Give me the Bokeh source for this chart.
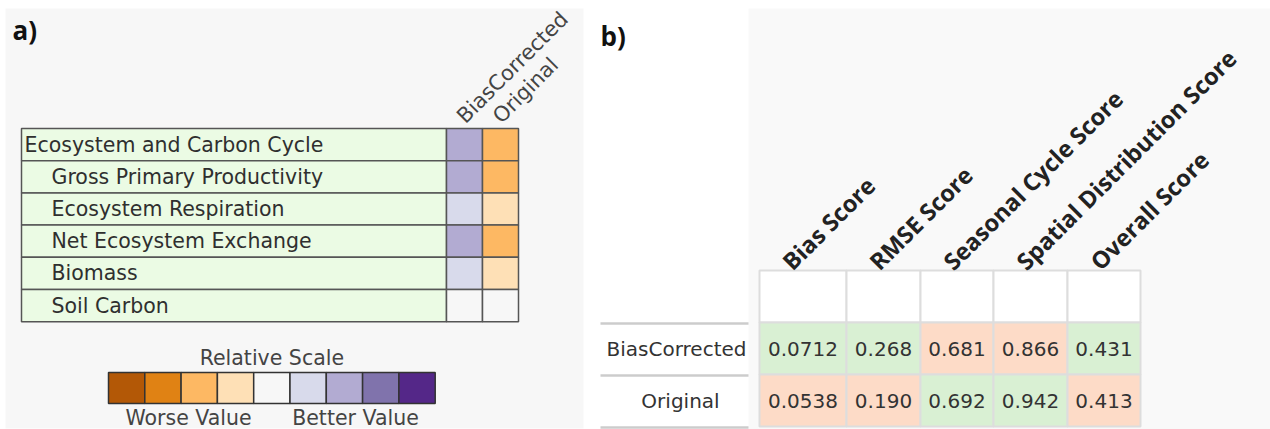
import math
from bokeh.plotting import figure
from bokeh.models import Range1d, ColumnDataSource
from bokeh.core.properties import value
from bokeh.embed import file_html
from bokeh.resources import INLINE

# ---- panel a: relative scores per variable ----
sections = [
    "Ecosystem and Carbon Cycle",
    "Gross Primary Productivity",
    "Ecosystem Respiration",
    "Net Ecosystem Exchange",
    "Biomass",
    "Soil Carbon",
]
section_level = [0, 1, 1, 1, 1, 1]
models = ["BiasCorrected", "Original"]
relative_bias_corrected = [2, 2, 1, 2, 1, 0]
relative_original = [-2, -2, -1, -2, -1, 0]
scale_levels = [-4, -3, -2, -1, 0, 1, 2, 3, 4]
scale_colors = ["#b35806", "#e08214", "#fdb863", "#fee0b6", "#f7f7f7",
                "#d8daeb", "#b2abd2", "#8073ac", "#542788"]
scale_title = "Relative Scale"
scale_ends = ["Worse Value", "Better Value"]

# ---- panel b: absolute scores ----
metrics = ["Bias Score", "RMSE Score", "Seasonal Cycle Score",
           "Spatial Distribution Score", "Overall Score"]
score_rows = ["BiasCorrected", "Original"]
scores_bias_corrected = [0.0712, 0.268, 0.681, 0.866, 0.431]
scores_original = [0.0538, 0.190, 0.692, 0.942, 0.413]

W, H = 1270, 429
FONT = value("DejaVu Sans")

p = figure(width=W, height=H, x_range=Range1d(0, W), y_range=Range1d(H, 0),
           output_backend="svg", toolbar_location=None, min_border=0)
p.axis.visible = False
p.grid.visible = False
p.outline_line_color = None
p.background_fill_color = "white"
p.border_fill_color = "white"

# panel backgrounds
p.quad(left=[5, 748], right=[583, W], top=[8, 8], bottom=[428, H],
       fill_color=["#f7f7f7", "#f9f9f9"], line_color=None)

# panel tags
p.text(x=[12, 600], y=[29, 35], text=["a)", "b)"], text_font=value("Open Sans"),
       text_font_style="bold", text_font_size="26px", text_color="#111111",
       text_baseline="middle", text_align="left")

# ---------- panel a ----------
a_left, a_label_right, a_col_w = 21, 446, 36
a_top, a_row_h = 128, 32.2
level_color = dict(zip(scale_levels, scale_colors))

n = len(sections)
row_top = [a_top + i * a_row_h for i in range(n)]
row_bot = [t + a_row_h for t in row_top]
row_mid = [t + a_row_h / 2 for t in row_top]

p.quad(left=[a_left] * n, right=[a_label_right] * n, top=row_top, bottom=row_bot,
       fill_color="#ebfbe4", line_color="#555555", line_width=1.5)
p.text(x=[a_left + 3 + 27 * lv for lv in section_level], y=row_mid, text=sections,
       text_font=FONT, text_font_size="20.5px", text_color="#2f2f2f",
       text_baseline="middle", text_align="left")

for j, vals in enumerate([relative_bias_corrected, relative_original]):
    l = a_label_right + j * a_col_w
    p.quad(left=[l] * n, right=[l + a_col_w] * n, top=row_top, bottom=row_bot,
           fill_color=[level_color[v] for v in vals], line_color="#555555", line_width=1.5)

p.text(x=[a_label_right + (j + 0.5) * a_col_w - 4 for j in range(len(models))],
       y=[a_top - 9] * len(models), text=models, angle=math.pi / 4,
       text_font=FONT, text_font_size="21px", text_color="#444444",
       text_baseline="middle", text_align="left")

# relative scale legend
sc_left, sc_w, sc_top, sc_bot = 108, 36.3, 372, 403
k = len(scale_levels)
p.quad(left=[sc_left + i * sc_w for i in range(k)],
       right=[sc_left + (i + 1) * sc_w for i in range(k)],
       top=[sc_top] * k, bottom=[sc_bot] * k,
       fill_color=scale_colors, line_color="#333333", line_width=1.5)
p.text(x=[sc_left + k * sc_w / 2], y=[357], text=[scale_title], text_font=FONT,
       text_font_size="20.5px", text_color="#444444", text_baseline="middle",
       text_align="center")
p.text(x=[188, 355], y=[417, 417], text=scale_ends, text_font=FONT,
       text_font_size="20.5px", text_color="#444444", text_baseline="middle",
       text_align="center")

# ---------- panel b ----------
col_edges = [759, 846, 920, 993, 1067, 1140]
row_edges = [270, 322, 374, 426]
m = len(metrics)
c_left = col_edges[:-1]
c_right = col_edges[1:]
c_mid = [(a + b) / 2 for a, b in zip(c_left, c_right)]

# empty header cells
p.quad(left=c_left, right=c_right, top=[row_edges[0]] * m, bottom=[row_edges[1]] * m,
       fill_color="white", line_color="#dddddd", line_width=2)

good, bad = "#d9f0d3", "#fddbc7"
for r, (vals, other) in enumerate([(scores_bias_corrected, scores_original),
                                   (scores_original, scores_bias_corrected)]):
    src = ColumnDataSource(dict(
        left=c_left, right=c_right,
        top=[row_edges[r + 1]] * m, bottom=[row_edges[r + 2]] * m,
        mid=c_mid, y=[(row_edges[r + 1] + row_edges[r + 2]) / 2] * m,
        color=[good if v > o else bad for v, o in zip(vals, other)],
        label=[f"{v:#.3g}" for v in vals],
    ))
    p.quad(left="left", right="right", top="top", bottom="bottom", source=src,
           fill_color="color", line_color="#dddddd", line_width=2)
    p.text(x="mid", y="y", text="label", source=src, text_font=FONT,
           text_font_size="20px", text_color="#333333", text_baseline="middle",
           text_align="center")

# row labels with separators
lab_mid = [(row_edges[r + 1] + row_edges[r + 2]) / 2 for r in range(len(score_rows))]
p.text(x=[676, 680], y=lab_mid, text=score_rows, text_font=FONT, text_font_size="20px",
       text_color="#333333", text_baseline="middle", text_align="center")
p.segment(x0=[600] * 3, x1=[748] * 3, y0=[row_edges[1] + 1, row_edges[2] + 1, 427],
          y1=[row_edges[1] + 1, row_edges[2] + 1, 427], line_color="#cccccc", line_width=2.5)

# rotated metric headers
p.text(x=[l + 27 for l in c_left], y=[row_edges[0] - 5] * m, text=metrics,
       angle=math.pi / 4, text_font=value("Open Sans"), text_font_style="bold",
       text_font_size="23.5px", text_color="#222222", text_baseline="alphabetic",
       text_align="left")

open("out.html", "w").write(file_html(p, INLINE))
